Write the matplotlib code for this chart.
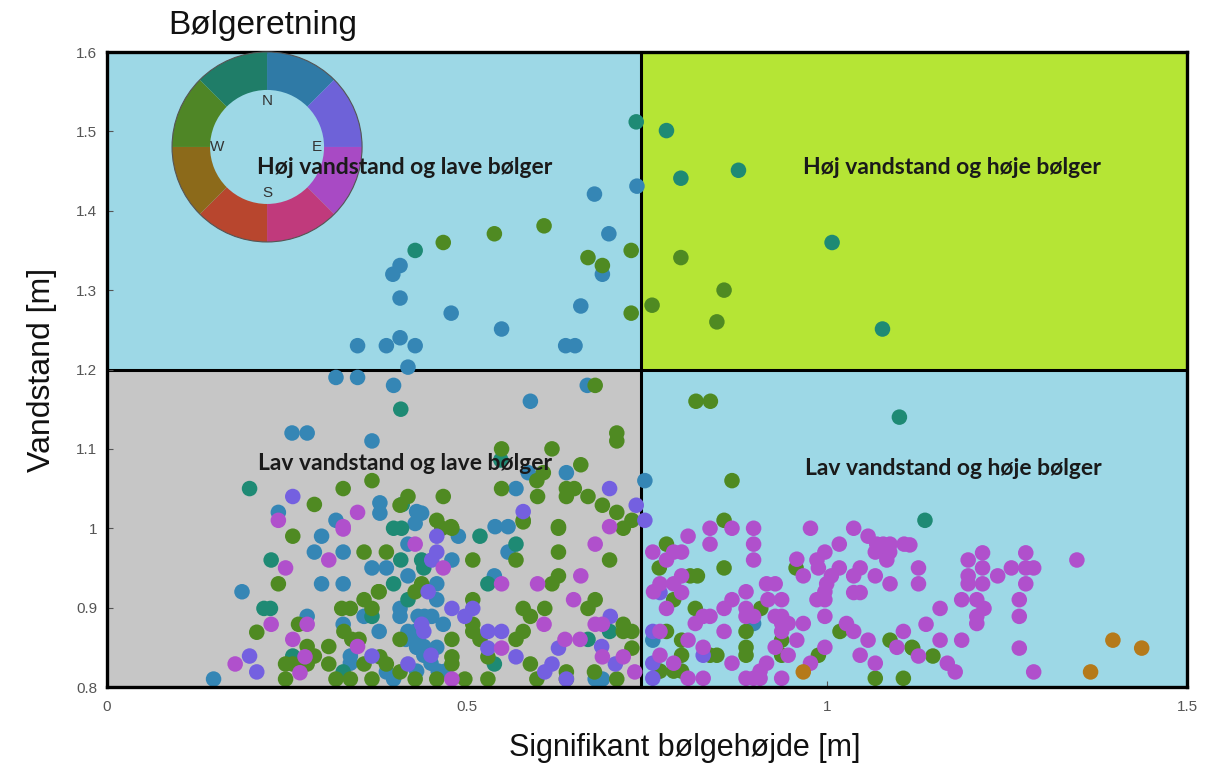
import numpy as np
import matplotlib
matplotlib.use("Agg")
import matplotlib.pyplot as plt

plt.rcParams["font.family"] = ["Liberation Sans", "DejaVu Sans"]

# ── data ──────────────────────────────────────────────────────────────────
blue_x = [0.736, 0.677, 0.697, 0.688, 0.407, 0.397, 0.407, 0.658, 0.478, 0.548, 0.348, 0.388,
          0.407, 0.428, 0.637, 0.650, 0.418,
          0.318, 0.348, 0.257, 0.278, 0.368, 0.398, 0.588, 0.667, 0.638, 0.585, 0.568, 0.238,
          0.318, 0.379, 0.379, 0.430, 0.437, 0.539, 0.557, 0.298, 0.288, 0.328, 0.368, 0.298,
          0.328, 0.1875, 0.278, 0.328, 0.357, 0.338, 0.338, 0.148, 0.428, 0.488, 0.557, 0.418,
          0.479, 0.388, 0.418, 0.458, 0.538, 0.458, 0.407, 0.407, 0.432, 0.441, 0.451, 0.378,
          0.418, 0.428, 0.467, 0.415, 0.430, 0.440, 0.430, 0.458, 0.388, 0.398, 0.440, 0.450,
          0.460, 0.470, 0.430, 0.678, 0.688, 0.747, 0.758, 0.898]
blue_y = [1.431, 1.421, 1.371, 1.320, 1.331, 1.320, 1.290, 1.280, 1.271, 1.251, 1.230, 1.230,
          1.240, 1.230, 1.230, 1.230, 1.203,
          1.190, 1.190, 1.120, 1.120, 1.110, 1.180, 1.160, 1.180, 1.070, 1.070, 1.050, 1.020,
          1.010, 1.032, 1.019, 1.021, 1.019, 1.002, 1.002, 0.990, 0.970, 0.970, 0.950, 0.930,
          0.930, 0.920, 0.889, 0.879, 0.889, 0.839, 0.830, 0.810, 1.006, 0.990, 0.970, 0.980,
          0.960, 0.950, 0.940, 0.930, 0.940, 0.910, 0.899, 0.889, 0.889, 0.889, 0.889, 0.870,
          0.870, 0.870, 0.879, 0.860, 0.860, 0.851, 0.850, 0.850, 0.819, 0.810, 0.840, 0.830,
          0.820, 0.820, 0.820, 0.810, 0.810, 1.060, 0.859, 0.880]

teal_x = [0.735, 0.777, 0.797, 0.877, 0.428, 1.007, 1.077, 0.408, 1.1005, 1.136, 0.198, 0.547,
          0.228, 0.218, 0.227, 0.368, 0.258, 0.328, 0.398, 0.409, 0.518, 0.568, 0.408, 0.437,
          0.398, 0.529, 0.418, 0.698, 0.668, 0.538, 0.410, 0.440]
teal_y = [1.512, 1.501, 1.441, 1.451, 1.350, 1.360, 1.251, 1.150, 1.140, 1.010, 1.050, 1.086,
          0.960, 0.899, 0.899, 0.889, 0.839, 0.819, 1.000, 1.000, 0.990, 0.980, 0.960, 0.960,
          0.930, 0.930, 0.910, 0.870, 0.860, 0.829, 1.030, 0.950]

green_x = [0.607, 0.538, 0.467, 0.728, 0.668, 0.688, 0.797, 0.857, 0.757, 0.728, 0.847,
           0.678, 0.708, 0.708, 0.548, 0.618, 0.658, 0.606, 0.597, 0.548, 0.467, 0.598, 0.638,
           0.649, 0.638, 0.668, 0.688, 0.708, 0.729, 0.578, 0.627, 0.418, 0.407, 0.458, 0.478,
           0.288, 0.328, 0.368, 0.258, 0.357, 0.238, 0.377, 0.326, 0.338, 0.357, 0.368, 0.266,
           0.208, 0.329, 0.340, 0.350, 0.278, 0.308, 0.248, 0.258, 0.278, 0.288, 0.308, 0.357,
           0.248, 0.318, 0.338, 0.368, 0.465, 0.479, 0.578, 0.627, 0.717, 0.568, 0.627, 0.698,
           0.388, 0.437, 0.428, 0.508, 0.618, 0.627, 0.378, 0.508, 0.678, 0.668, 0.578, 0.588,
           0.608, 0.508, 0.508, 0.518, 0.479, 0.717, 0.717, 0.729, 0.578, 0.568, 0.407, 0.729,
           0.529, 0.588, 0.379, 0.388, 0.479, 0.479, 0.407, 0.428, 0.458, 0.497, 0.529, 0.597,
           0.638, 0.638, 0.677, 0.708,
           0.818, 0.838, 0.868, 0.857, 0.777, 0.767, 0.857, 0.957, 0.810, 0.820, 0.787, 0.817,
           0.908, 0.8875, 1.018, 1.0875, 1.118, 0.777, 0.798, 0.798, 0.8375, 0.847, 0.8875,
           0.8875, 0.937, 0.937, 0.988, 1.067, 1.106, 0.768, 0.787, 0.798, 1.119, 1.147]
green_y = [1.381, 1.371, 1.360, 1.350, 1.341, 1.331, 1.341, 1.300, 1.281, 1.271, 1.260,
           1.180, 1.120, 1.110, 1.100, 1.100, 1.080, 1.070, 1.060, 1.050, 1.040, 1.040, 1.050,
           1.050, 1.040, 1.040, 1.029, 1.020, 1.010, 1.010, 1.002, 1.040, 1.029, 1.010, 1.002,
           1.030, 1.050, 1.060, 0.990, 0.970, 0.930, 0.920, 0.899, 0.899, 0.910, 0.899, 0.879,
           0.869, 0.870, 0.860, 0.860, 0.851, 0.851, 0.829, 0.829, 0.829, 0.839, 0.829, 0.829,
           0.810, 0.810, 0.810, 0.810, 1.000, 1.000, 1.008, 1.000, 1.000, 0.960, 0.970, 0.960,
           0.970, 0.930, 0.920, 0.960, 0.930, 0.940, 0.920, 0.910, 0.910, 0.899, 0.899, 0.889,
           0.899, 0.879, 0.870, 0.860, 0.860, 0.879, 0.870, 0.870, 0.870, 0.860, 0.860, 0.849,
           0.838, 0.829, 0.838, 0.829, 0.838, 0.829, 0.819, 0.810, 0.810, 0.810, 0.810, 0.810,
           0.819, 0.810, 0.819, 0.810,
           1.160, 1.160, 1.060, 1.010, 0.980, 0.950, 0.950, 0.950, 0.940, 0.940, 0.910, 0.899,
           0.899, 0.870, 0.870, 0.859, 0.850, 0.870, 0.859, 0.840, 0.840, 0.840, 0.850,
           0.840, 0.859, 0.840, 0.840, 0.811, 0.811, 0.820, 0.820, 0.820, 0.849, 0.839]

purple_x = [0.258, 0.698, 0.735, 0.578, 0.198, 0.368, 0.208, 0.458, 0.458, 0.451, 0.446, 0.479,
            0.508, 0.497, 0.699, 0.437, 0.529, 0.548, 0.627, 0.687, 0.529, 0.568, 0.618, 0.608,
            0.706, 0.418, 0.638, 0.747, 0.768, 0.758, 0.828, 0.758, 0.758, 0.450, 0.440]
purple_y = [1.040, 1.050, 1.029, 1.021, 0.839, 0.839, 0.819, 0.990, 0.970, 0.960, 0.920, 0.899,
            0.899, 0.889, 0.889, 0.879, 0.870, 0.870, 0.849, 0.851, 0.849, 0.838, 0.829, 0.819,
            0.829, 0.829, 0.810, 1.010, 0.919, 0.870, 0.840, 0.830, 0.811, 0.840, 0.870]

magenta_x = [0.238, 0.348, 0.328, 0.698, 0.328, 0.248, 0.308, 0.278, 0.228, 0.258, 0.348, 0.178,
             0.275, 0.268, 0.428, 0.678, 0.467, 0.548, 0.598, 0.658, 0.648, 0.607, 0.678, 0.688,
             0.636, 0.657, 0.548, 0.688, 0.717, 0.479, 0.733,
             0.8375, 0.868, 0.898, 0.977, 1.037, 0.807, 0.8375, 0.898, 0.758, 0.787, 0.798, 0.898,
             1.017, 1.057, 1.069, 1.078, 1.0875, 1.107, 1.067, 1.087, 1.083, 0.997, 0.986, 0.958,
             0.988, 0.777, 0.967, 1.017, 1.006, 0.9995, 1.046, 1.037, 1.067, 0.798, 0.787, 0.768,
             0.759, 0.798, 0.777, 0.916, 0.928, 0.8875, 0.918, 0.937, 0.868, 0.857, 0.8875, 0.997,
             0.986, 0.997, 1.037, 1.046, 1.0875, 0.828, 0.8375, 0.817, 0.8875, 0.898, 0.928, 0.937,
             0.946, 0.937, 0.967, 0.997, 0.857, 0.958, 0.937, 1.027, 1.037, 1.057, 1.106, 1.097,
             0.768, 0.807, 0.828, 0.928, 0.946, 0.997, 0.977, 1.046, 1.067, 0.868, 0.916, 0.907,
             0.898, 0.907, 0.937, 0.8875, 0.807, 0.828, 0.787, 0.768,
             1.216, 1.276, 1.196, 1.347, 1.127, 1.216, 1.256, 1.276, 1.287, 1.196, 1.237, 1.127,
             1.196, 1.216, 1.276, 1.187, 1.208, 1.218, 1.267, 1.157, 1.208, 1.208, 1.267, 1.1375,
             1.157, 1.187, 1.267, 1.127, 1.167, 1.178, 1.287, 1.115]
magenta_y = [1.010, 1.020, 1.002, 1.002, 0.999, 0.950, 0.960, 0.879, 0.879, 0.860, 0.851, 0.829,
             0.838, 0.818, 0.980, 0.980, 0.950, 0.930, 0.930, 0.940, 0.910, 0.879, 0.879, 0.879,
             0.860, 0.860, 0.849, 0.838, 0.838, 0.810, 0.819,
             1.000, 1.000, 1.000, 1.000, 1.000, 0.990, 0.980, 0.980, 0.970, 0.970, 0.970, 0.960,
             0.980, 0.990, 0.980, 0.980, 0.980, 0.980, 0.970, 0.970, 0.960, 0.970, 0.960, 0.961,
             0.950, 0.960, 0.940, 0.950, 0.940, 0.930, 0.950, 0.940, 0.940, 0.940, 0.930, 0.930,
             0.920, 0.919, 0.899, 0.930, 0.930, 0.920, 0.910, 0.910, 0.910, 0.899, 0.899, 0.920,
             0.910, 0.910, 0.919, 0.919, 0.930, 0.889, 0.889, 0.880, 0.889, 0.889, 0.889, 0.889,
             0.880, 0.880, 0.880, 0.889, 0.870, 0.859, 0.870, 0.880, 0.870, 0.859, 0.870, 0.850,
             0.870, 0.859, 0.850, 0.850, 0.840, 0.850, 0.830, 0.840, 0.830, 0.830, 0.830, 0.820,
             0.811, 0.811, 0.811, 0.811, 0.811, 0.811, 0.830, 0.840,
             0.969, 0.969, 0.960, 0.960, 0.950, 0.950, 0.950, 0.950, 0.950, 0.940, 0.940, 0.930,
             0.930, 0.930, 0.930, 0.910, 0.910, 0.899, 0.910, 0.899, 0.889, 0.880, 0.889, 0.879,
             0.859, 0.859, 0.849, 0.839, 0.830, 0.819, 0.819, 0.979]

brown_x = [0.967, 1.397, 1.437, 1.366]
brown_y = [0.819, 0.859, 0.849, 0.819]

# wheel sectors clockwise from north
wheel_colors = ["#2f7aa6", "#6e62d8", "#a84ac4", "#c03a7c",
                "#b8462e", "#8c6a1a", "#4f8626", "#1f7d68"]
wheel_labels = ["N", "E", "S", "W"]

quad_labels = ["Høj vandstand og lave bølger", "Høj vandstand og høje bølger",
               "Lav vandstand og lave bølger", "Lav vandstand og høje bølger"]

X_SPLIT = 0.742
Y_SPLIT = 1.2

fig = plt.figure(figsize=(12.2, 7.67), dpi=100)
ax = fig.add_axes([0.0877, 0.1043, 0.8853, 0.8279])
ax.set_xlim(0, 1.5)
ax.set_ylim(0.8, 1.6)

# quadrant backgrounds
ax.axvspan(0, X_SPLIT, ymin=0.5, ymax=1, color="#9dd8e6", zorder=0, lw=0)
ax.axvspan(X_SPLIT, 1.5, ymin=0.5, ymax=1, color="#b5e535", zorder=0, lw=0)
ax.axvspan(0, X_SPLIT, ymin=0, ymax=0.5, color="#c6c6c6", zorder=0, lw=0)
ax.axvspan(X_SPLIT, 1.5, ymin=0, ymax=0.5, color="#9dd8e6", zorder=0, lw=0)
ax.axvline(X_SPLIT, color="black", lw=2.2, zorder=1)
ax.axhline(Y_SPLIT, color="black", lw=2.2, zorder=1)

groups = [
    (blue_x, blue_y, "#3586b5"),
    (teal_x, teal_y, "#1e8a74"),
    (green_x, green_y, "#4f8a22"),
    (purple_x, purple_y, "#7460e0"),
    (magenta_x, magenta_y, "#b050cc"),
    (brown_x, brown_y, "#b57a1a"),
]
for xs, ys, c in groups:
    ax.scatter(xs, ys, s=125, color=c, edgecolors="none", zorder=2)

ax.set_xticks([0, 0.5, 1, 1.5])
ax.set_xticklabels(["0", "0.5", "1", "1.5"])
ax.set_yticks([0.8, 0.9, 1.0, 1.1, 1.2, 1.3, 1.4, 1.5, 1.6])
ax.set_yticklabels(["0.8", "0.9", "1", "1.1", "1.2", "1.3", "1.4", "1.5", "1.6"])
ax.tick_params(direction="in", length=4, width=0.8, colors="#555555", labelsize=11)
ax.tick_params(axis="x", pad=9)
ax.tick_params(axis="y", pad=7)
for sp in ax.spines.values():
    sp.set_linewidth(2.4)
    sp.set_color("black")
    sp.set_zorder(5)

ax.set_xlabel("Signifikant bølgehøjde [m]", fontsize=22, labelpad=10, color="#111111")
ax.xaxis.set_label_coords(0.535, -0.072)
ax.set_ylabel("Vandstand [m]", fontsize=23, labelpad=14, color="#111111")

fig.text(0.138, 0.967, "Bølgeretning", fontsize=24, ha="left", va="center", color="#111111")

# direction wheel
wax = fig.add_axes([0.1369, 0.678, 0.164, 0.2608])
wax.set_xlim(-1, 1)
wax.set_ylim(-1, 1)
wax.set_aspect("equal")
wax.axis("off")
wax.pie([1] * len(wheel_colors), colors=wheel_colors, startangle=90, counterclock=False,
        radius=0.95, wedgeprops=dict(width=0.38, edgecolor="none"))
outer = plt.Circle((0, 0), 0.95, fill=False, ec="#555555", lw=0.8)
wax.add_patch(outer)
wax.set_xlim(-1, 1)
wax.set_ylim(-1, 1)
lf = dict(fontsize=11, color="#333333", ha="center", va="center")
wax.text(0, 0.46, wheel_labels[0], **lf)
wax.text(0.5, 0.0, wheel_labels[1], **lf)
wax.text(0, -0.46, wheel_labels[2], **lf)
wax.text(-0.5, 0.0, wheel_labels[3], **lf)

# quadrant captions on top of everything (also over the wheel)
qfont = dict(family=["Lato", "DejaVu Sans"], fontweight="bold", fontsize=16.5,
             color="#1a1a1a", ha="center", va="center", transform=ax.transData)
fig.text(0.414, 1.454, quad_labels[0], **qfont)
fig.text(1.174, 1.455, quad_labels[1], **qfont)
fig.text(0.414, 1.081, quad_labels[2], **qfont)
fig.text(1.175, 1.075, quad_labels[3], **qfont)

fig.savefig("out.png", dpi=100)
